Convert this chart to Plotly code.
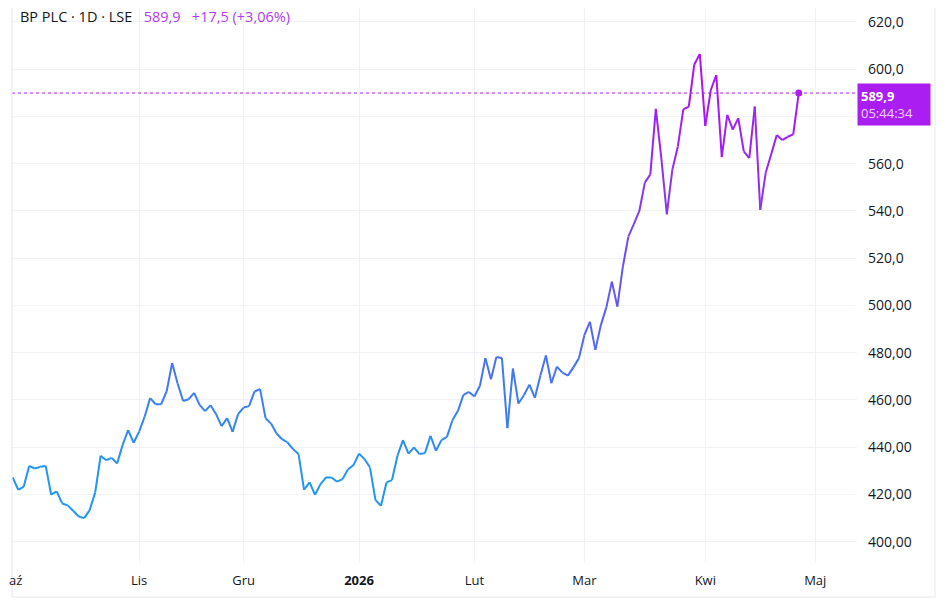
import plotly.graph_objects as go
from plotly.colors import sample_colorscale

# daily closes, BP PLC (LSE), 1 Oct 2025 .. 28 Apr 2026, one value per bar
close = [
    427.2, 422.0, 423.3, 432.1, 431.0, 431.7, 432.1, 419.9, 421.3, 416.2,
    415.4, 413.1, 410.7, 410.0, 413.4, 420.8, 436.4, 434.5, 435.5, 433.1,
    441.0, 447.2, 441.9, 446.6, 452.9, 460.8, 458.2, 458.2, 463.6, 475.6,
    467.0, 459.6, 460.3, 463.0, 457.9, 455.3, 457.8, 454.0, 448.9, 452.3,
    446.5, 454.0, 456.8, 457.4, 463.6, 464.6, 452.3, 450.0, 445.8, 443.4,
    442.0, 439.2, 437.1, 422.0, 425.1, 419.9, 424.4, 427.2, 427.2, 425.4,
    426.5, 430.7, 432.4, 437.3, 435.0, 431.4, 417.6, 415.2, 425.1, 426.1,
    436.4, 443.0, 437.3, 439.9, 437.1, 437.5, 444.8, 438.5, 443.0, 444.4,
    451.4, 455.4, 462.2, 463.4, 461.5, 466.0, 477.7, 468.8, 478.2, 477.8,
    448.1, 473.3, 458.5, 462.0, 466.5, 460.9, 470.4, 478.8, 467.1, 474.1,
    471.6, 470.3, 473.8, 477.6, 487.4, 493.1, 481.2, 491.7, 499.2, 510.1,
    499.5, 516.4, 529.1, 534.4, 540.0, 552.0, 555.5, 583.2, 562.4, 538.6,
    557.4, 567.2, 583.0, 584.2, 602.0, 606.4, 576.0, 591.2, 597.5, 562.8,
    580.7, 574.4, 579.3, 565.2, 562.4, 584.2, 540.5, 556.3, 564.1, 572.1,
    570.0, 571.4, 572.4, 589.9,
]

# bar index of the first session of each month, and its label
# (the October label is cut by the pane edge in the original, drawn separately)
month_idx = [0, 23, 42, 63, 84, 104, 126, 146]
month_txt = ["", "Lis", "Gru", "<b>2026</b>", "Lut", "Mar", "Kwi", "Maj"]
edge_month_txt = "aź"

# 580 sits under the last-price label, so its text is left blank
price_ticks = [400, 420, 440, 460, 480, 500, 520, 540, 560, 580, 600, 620]
price_txt = ["400,00", "420,00", "440,00", "460,00", "480,00", "500,00",
             "520,0", "540,0", "560,0", "", "600,0", "620,0"]

last_txt = "589,9"
change_txt = "+17,5 (+3,06%)"
countdown = "05:44:34"
symbol_txt = "BP PLC · 1D · LSE"

BLUE = "#2196F3"
PURPLE = "#AA1EF2"
GRID = "#F0F2F7"
TEXT = "#131722"
FONT = "Open Sans"
NB = "\u00a0"


def value_color(v):
    # vertical gradient: low prices blue, high prices violet
    t = min(max((v - 430) / (588 - 430), 0), 1)
    return sample_colorscale([[0, BLUE], [1, "#AB14F5"]], [t])[0]


fig = go.Figure()

n = len(close)
for i in range(n - 1):
    fig.add_trace(
        go.Scatter(
            x=[i, i + 1],
            y=[close[i], close[i + 1]],
            mode="lines",
            line={"color": value_color((close[i] + close[i + 1]) / 2), "width": 2},
            hoverinfo="skip",
            showlegend=False,
        )
    )

# last price marker
fig.add_trace(
    go.Scatter(
        x=[n - 1],
        y=[close[-1]],
        mode="markers",
        marker={"color": PURPLE, "size": 7},
        hoverinfo="skip",
        showlegend=False,
    )
)

# dotted last-price line
fig.add_shape(
    type="line", xref="paper", yref="y", x0=0, x1=1, y0=close[-1], y1=close[-1],
    line={"color": PURPLE, "width": 1, "dash": "dot"},
)

# frame around the pane
frame = "#E6E8EE"
yb = -0.0613
for x0, y0, x1, y1 in [(0, yb, 0, 1.0), (0, yb, 1.0923, yb), (1.0923, yb, 1.0923, 1.0)]:
    fig.add_shape(type="line", xref="paper", yref="paper", x0=x0, y0=y0, x1=x1, y1=y1,
                  line={"color": frame, "width": 1})

# price label on the axis: first line level with the price, countdown below
fig.add_annotation(
    xref="paper", yref="y", x=1.0, y=close[-1], xanchor="left", yanchor="top",
    yshift=10,
    text=f"<b>{last_txt}</b><br><span style='color:rgba(255,255,255,0.8)'>{countdown}</span>",
    showarrow=False, align="left", bgcolor=PURPLE, borderpad=3, width=66,
    font={"family": FONT, "size": 13, "color": "white"},
)

# header
fig.add_annotation(
    xref="paper", yref="paper", x=0, y=1, xanchor="left", yanchor="top",
    xshift=6, yshift=3, showarrow=False,
    text=(f"{symbol_txt}{NB * 3}<span style='color:#B23BEF'>{last_txt}"
          f"{NB * 3}{change_txt}</span>"),
    font={"family": FONT, "size": 14.5, "color": TEXT},
)

# October label at the left edge
fig.add_annotation(
    xref="x", yref="paper", x=month_idx[0], y=0, xanchor="left", yanchor="middle",
    xshift=-6, yshift=-17, showarrow=False, text=edge_month_txt,
    font={"family": FONT, "size": 13, "color": TEXT},
)

fig.update_xaxes(
    range=[-0.13, 153.6],
    tickvals=month_idx,
    ticktext=month_txt,
    showgrid=True, gridcolor=GRID, gridwidth=1,
    zeroline=False, showline=False, ticks="",
    ticklabelstandoff=8,
    tickfont={"family": FONT, "size": 13, "color": TEXT},
)
fig.update_yaxes(
    side="right",
    range=[391.0, 625.9],
    tickvals=price_ticks,
    ticktext=price_txt,
    showgrid=True, gridcolor=GRID, gridwidth=1,
    zeroline=False, showline=False, ticks="",
    ticklabelstandoff=10,
    tickfont={"family": FONT, "size": 14, "color": TEXT},
)

# the page adds an 8px body margin, so the figure is sized to fit the window
fig.update_layout(
    width=940,
    height=605,
    margin={"l": 4, "r": 91, "t": 0, "b": 50, "autoexpand": False},
    paper_bgcolor="white",
    plot_bgcolor="white",
    showlegend=False,
    hovermode=False,
)

fig.write_html("out.html")
